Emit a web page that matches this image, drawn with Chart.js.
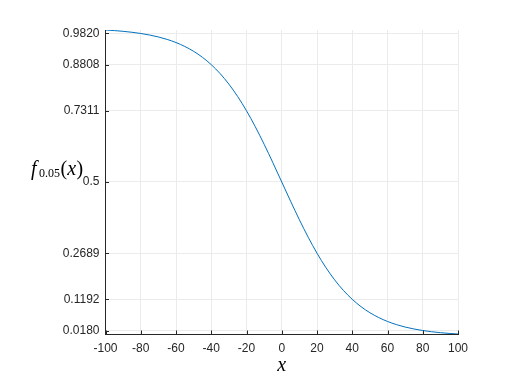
<!DOCTYPE html>
<html>
<head>
<meta charset="utf-8">
<script src="https://cdn.jsdelivr.net/npm/chart.js"></script>
<style>
  html, body { margin: 0; padding: 0; background: #fff; }
  #wrap { width: 506px; height: 380px; position: relative; }
</style>
</head>
<body>
<div id="wrap"><canvas id="c"></canvas></div>
<script>
// x positions and curve values
const xValues = [-100, -95, -90, -85, -80, -75, -70, -65, -60, -55, -50, -45, -40, -35, -30, -25, -20, -15, -10, -5,
  0, 5, 10, 15, 20, 25, 30, 35, 40, 45, 50, 55, 60, 65, 70, 75, 80, 85, 90, 95, 100];
const yValues = [0.9933, 0.9914, 0.9890, 0.9859, 0.9820, 0.9770, 0.9707, 0.9627, 0.9526, 0.9399, 0.9241, 0.9047, 0.8808, 0.8520, 0.8176, 0.7773, 0.7311, 0.6792, 0.6225, 0.5622,
  0.5, 0.4378, 0.3775, 0.3208, 0.2689, 0.2227, 0.1824, 0.1480, 0.1192, 0.0953, 0.0759, 0.0601, 0.0474, 0.0373, 0.0293, 0.0230, 0.0180, 0.0141, 0.0110, 0.0086, 0.0067];

// tick labels
const xTicks = [-100, -80, -60, -40, -20, 0, 20, 40, 60, 80, 100];
const yTicks = [0.0180, 0.1192, 0.2689, 0.5, 0.7311, 0.8808, 0.9820];
const yTickLabels = ['0.0180', '0.1192', '0.2689', '0.5', '0.7311', '0.8808', '0.9820'];

const axisColor = '#262626';
const gridColor = '#ebebeb';
const serif = '"Liberation Serif", "DejaVu Serif", serif';

// MATLAB-style inward ticks plus the horizontal y label and x label
const decorations = {
  id: 'decorations',
  afterDraw(chart) {
    const ctx = chart.ctx;
    const xs = chart.scales.x, ys = chart.scales.y;
    const area = chart.chartArea;
    ctx.save();
    ctx.strokeStyle = axisColor;
    ctx.lineWidth = 1;
    ctx.beginPath();
    xTicks.forEach(v => {
      const px = Math.round(xs.getPixelForValue(v)) + 0.5;
      ctx.moveTo(px, area.bottom);
      ctx.lineTo(px, area.bottom - 3.5);
    });
    yTicks.forEach(v => {
      const py = Math.round(ys.getPixelForValue(v)) + 0.5;
      ctx.moveTo(area.left, py);
      ctx.lineTo(area.left + 3.5, py);
    });
    ctx.stroke();

    // y label f_{0.05}(x)
    ctx.fillStyle = '#000';
    ctx.textBaseline = 'alphabetic';
    ctx.textAlign = 'left';
    let x = 31;
    const base = 175;
    ctx.font = 'italic 20px ' + serif;
    ctx.fillText('f', x, base);
    x += ctx.measureText('f').width + 2.5;
    ctx.font = '12px ' + serif;
    ctx.fillText('0.05', x, base + 2);
    x += ctx.measureText('0.05').width + 0.5;
    ctx.font = '20px ' + serif;
    ctx.fillText('(', x, base);
    x += ctx.measureText('(').width;
    ctx.font = 'italic 20px ' + serif;
    ctx.fillText('x', x, base);
    x += ctx.measureText('x').width + 0.5;
    ctx.font = '20px ' + serif;
    ctx.fillText(')', x, base);

    // x label
    ctx.textAlign = 'center';
    ctx.font = 'italic 20px ' + serif;
    ctx.fillText('x', (area.left + area.right) / 2, 371);
    ctx.restore();
  }
};

new Chart(document.getElementById('c'), {
  type: 'line',
  data: {
    datasets: [{
      data: xValues.map((x, i) => ({ x: x, y: yValues[i] })),
      borderColor: '#0072bd',
      borderWidth: 1,
      pointRadius: 0,
      fill: false,
      cubicInterpolationMode: 'monotone'
    }]
  },
  options: {
    responsive: true,
    maintainAspectRatio: false,
    animation: false,
    layout: { padding: { left: 0, right: 48, top: 30, bottom: 0 } },
    plugins: { legend: { display: false }, tooltip: { enabled: false } },
    scales: {
      x: {
        type: 'linear',
        min: -100,
        max: 100,
        afterBuildTicks: s => { s.ticks = xTicks.map(v => ({ value: v })); },
        afterFit: s => { s.height = 46; },
        ticks: {
          color: axisColor,
          font: { family: '"Liberation Sans", Arial, sans-serif', size: 12 },
          padding: 7,
          maxRotation: 0,
          autoSkip: false
        },
        grid: { color: gridColor, drawTicks: false },
        border: { color: axisColor, width: 1 }
      },
      y: {
        type: 'linear',
        min: 0.0067,
        max: 0.9933,
        afterBuildTicks: s => { s.ticks = yTicks.map(v => ({ value: v })); },
        afterFit: s => { s.width = 105.5; },
        ticks: {
          color: axisColor,
          font: { family: '"Liberation Sans", Arial, sans-serif', size: 12 },
          padding: 6,
          autoSkip: false,
          callback: (v, i) => yTickLabels[i]
        },
        grid: { color: gridColor, drawTicks: false },
        border: { color: axisColor, width: 1 }
      }
    }
  },
  plugins: [decorations]
});
</script>
</body>
</html>
